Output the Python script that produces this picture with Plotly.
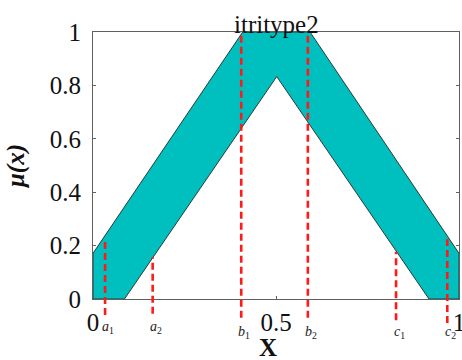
import plotly.graph_objects as go

# Upper membership function (trapezoid, clipped to [0, 1])
x_upper = [0.0, 0.409, 0.593, 1.0]
mu_upper = [0.171, 1.0, 1.0, 0.171]
# Lower membership function (triangle)
x_lower = [0.086, 0.502, 0.918]
mu_lower = [0.0, 0.833, 0.0]

# Dashed reference lines
line_names = ["a", "a", "b", "b", "c", "c"]
line_subs = ["1", "2", "1", "2", "1", "2"]
line_x = [0.033, 0.163, 0.405, 0.587, 0.828, 0.968]
line_top = [0.224, 0.156, 1.0, 1.0, 0.177, 0.224]
line_bottom = [-0.06, -0.055, -0.07, -0.07, -0.08, -0.09]
label_drop = [28, 28, 33, 33, 33, 33]

x_ticks = [0, 0.5, 1]
x_ticktext = ["0", "0.5", "1"]
y_ticks = [0, 0.2, 0.4, 0.6, 0.8, 1.0]
y_ticktext = ["0", "0.2", "0.4", "0.6", "0.8", "1"]

title_text = "itritype2"
x_title = "X"
y_title = "μ(x)"

FONT = "Liberation Serif"
TEAL = "#00BFBF"
RED = "#FF1A1A"
AXC = "#606060"

poly_x = [0.0] + x_upper + [1.0] + x_lower[::-1] + [0.0]
poly_y = [0.0] + mu_upper + [0.0] + mu_lower[::-1] + [0.0]

fig = go.Figure()
fig.add_trace(go.Scatter(
    x=poly_x, y=poly_y, mode="lines", fill="toself",
    fillcolor=TEAL, line=dict(color="#2a3a3a", width=1),
    hoverinfo="skip", showlegend=False,
))

y0, y1 = 0.0, 1.0
for xv, top, bot, nm, sb, drop in zip(line_x, line_top, line_bottom, line_names, line_subs, label_drop):
    fig.add_shape(
        type="line", xref="x", yref="y domain",
        x0=xv, x1=xv,
        y0=(bot - y0) / (y1 - y0), y1=(top - y0) / (y1 - y0),
        line=dict(color=RED, width=2.6, dash="7px,4px"),
    )
    fig.add_annotation(
        x=xv, xref="x", y=0, yref="paper",
        text=f"<i>{nm}</i><sub>{sb}</sub>",
        showarrow=False, xanchor="center", yanchor="middle",
        xshift=3, yshift=-drop,
        font=dict(family=FONT, size=14, color="#222"),
    )

fig.add_annotation(
    x=0.5, xref="paper", y=1, yref="paper", text=title_text,
    showarrow=False, xanchor="center", yanchor="middle", yshift=8,
    font=dict(family=FONT, size=25, color="#111"),
)

# x-axis title
fig.add_annotation(
    x=0.5, xref="paper", y=0, yref="paper", text=f"<b>{x_title}</b>",
    showarrow=False, xanchor="center", yanchor="middle", yshift=-48, xshift=-8,
    font=dict(family=FONT, size=25, color="#111"),
)

fig.update_layout(
    width=462, height=360,
    margin=dict(l=93, r=3, t=32, b=61),
    paper_bgcolor="white", plot_bgcolor="white",
    font=dict(family=FONT, color="#111"),
    showlegend=False,
    xaxis=dict(
        range=[0, 1], tickvals=x_ticks, ticktext=x_ticktext,
        showgrid=False, zeroline=False, showline=True, linecolor=AXC, linewidth=1,
        mirror="ticks", ticks="inside", ticklen=3, tickcolor=AXC,
        tickfont=dict(family=FONT, size=25, color="#111"),
        ticklabelstandoff=1, automargin=False, ticklabeloverflow="allow",
    ),
    yaxis=dict(
        range=[0, 1], tickvals=y_ticks, ticktext=y_ticktext,
        showgrid=False, zeroline=False, showline=True, linecolor=AXC, linewidth=1,
        mirror="ticks", ticks="inside", ticklen=3, tickcolor=AXC,
        tickfont=dict(family=FONT, size=25, color="#111"),
        ticklabelstandoff=6, automargin=False,
        title=dict(text=f"<b><i>{y_title}</i></b>", font=dict(family=FONT, size=25, color="#111"), standoff=18),
    ),
)

fig.write_html("out.html")
